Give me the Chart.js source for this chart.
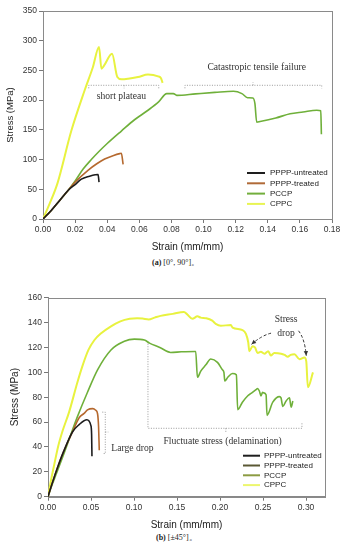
<!DOCTYPE html>
<html>
<head>
<meta charset="utf-8">
<script src="https://cdn.jsdelivr.net/npm/chart.js@4.4.0/dist/chart.umd.min.js"></script>
<style>
  html, body { margin: 0; padding: 0; background: #fff; }
  body { width: 347px; height: 550px; position: relative; overflow: hidden; }
  .box { position: absolute; left: 0; width: 347px; }
  .cap { position: absolute; font-family: "Liberation Serif", serif; font-size: 8px; color: #222; white-space: nowrap; }
</style>
</head>
<body>
<div class="box" style="top:0;height:255px"><canvas id="chartA"></canvas></div>
<div class="cap" style="left:152px;top:257px"><b>(a)</b> [0°, 90°]。</div>
<div class="box" style="top:280px;height:252px"><canvas id="chartB"></canvas></div>
<div class="cap" style="left:156px;top:532px"><b>(b)</b> [±45°]。</div>
<script>
const seriesNames = ['PPPP-untreated', 'PPPP-treated', 'PCCP', 'CPPC'];
const lineColors = ['#1c1c1c', '#b5692f', '#6fb03a', '#e8f23f'];
const legendColorsA = ['#1e1e1e', '#b06a38', '#72ae3c', '#e8f452'];
const legendColorsB = ['#1e1e1e', '#5a5834', '#8c9b42', '#ecf66e'];

// (a) [0°, 90°]
const untreatedStrainA = [0, 0.005, 0.01, 0.0156, 0.02, 0.0239, 0.029, 0.0325, 0.0343, 0.0349];
const untreatedStressA = [0, 14, 30, 48, 58, 67, 72, 74.5, 75, 62];
const treatedStrainA = [0, 0.005, 0.01, 0.0156, 0.02, 0.028, 0.0335, 0.0384, 0.044, 0.0478, 0.0488, 0.0499];
const treatedStressA = [0, 14, 30, 48, 62, 82, 93, 101, 107, 110, 110.5, 92];
const pccpStrainA = [0, 0.005, 0.01, 0.0156, 0.02, 0.025, 0.0301, 0.035, 0.04, 0.0488, 0.057, 0.0654, 0.072, 0.0771,
  0.0812, 0.0833, 0.095, 0.107, 0.1186, 0.1239, 0.1274, 0.1307, 0.132, 0.1331, 0.1352, 0.145, 0.1539, 0.162, 0.1705, 0.173, 0.1734];
const pccpStressA = [0, 14, 30, 48, 64, 84, 100, 114, 127, 148, 167, 183, 197, 211,
  211, 208, 210.5, 213, 215, 211, 204, 203.5, 194, 163, 164, 170, 177, 180, 183, 182, 142.5];
const cppcStrainA = [0, 0.004, 0.009, 0.0176, 0.026, 0.031, 0.0349, 0.0364, 0.038, 0.043, 0.0463, 0.049, 0.053,
  0.0592, 0.0654, 0.0717, 0.0735, 0.0745];
const cppcStressA = [0, 25, 60, 148, 217, 255, 289.5, 253, 258, 278, 239, 235, 236, 239, 243, 240, 237, 229];
const strainTicksA = [0, 0.02, 0.04, 0.06, 0.08, 0.10, 0.12, 0.14, 0.16, 0.18];
const stressTicksA = [0, 50, 100, 150, 200, 250, 300, 350];

// (b) [±45°]
const untreatedStrainB = [0, 0.005, 0.0109, 0.018, 0.0284, 0.0362, 0.0452, 0.0498, 0.0507, 0.0511];
const untreatedStressB = [0, 11, 23, 36, 52, 58, 61.9, 57.3, 50, 32.6];
const treatedStrainB = [0, 0.005, 0.0109, 0.018, 0.0284, 0.0362, 0.042, 0.0459, 0.052, 0.0555, 0.0576, 0.0588, 0.0596];
const treatedStressB = [0, 11, 23, 36, 52, 63.5, 67, 69.8, 70.8, 69.5, 66.7, 56, 37.3];
const pccpStrainB = [0, 0.005, 0.01, 0.0187, 0.026, 0.034, 0.0459, 0.0576, 0.0732, 0.0888, 0.1004, 0.112, 0.118, 0.13,
  0.1425, 0.155, 0.1705, 0.1717, 0.1737, 0.1776, 0.1835, 0.1892, 0.197, 0.2028, 0.2045, 0.2055, 0.209, 0.2145, 0.219,
  0.2205, 0.226, 0.232, 0.236, 0.2418, 0.2435, 0.2457, 0.2476, 0.2495, 0.2507, 0.2535, 0.2546, 0.2613, 0.269, 0.2709,
  0.2729, 0.2768, 0.2807, 0.2826, 0.2846];
const pccpStressB = [0, 10, 19, 35, 49, 64, 84, 102, 118, 125, 126.7, 126, 123.5, 120,
  116, 116.5, 116.8, 116.8, 96, 101, 106, 110.7, 108, 102, 100, 93, 96, 99, 98,
  70, 76, 81, 83, 86, 87, 85, 81, 84, 83.5, 82, 65.4, 76, 80.5, 79.5,
  72.6, 77, 79.5, 72, 77];
const cppcStrainB = [0, 0.004, 0.007, 0.012, 0.017, 0.0245, 0.0342, 0.04, 0.047, 0.054, 0.061, 0.0732, 0.0841, 0.095,
  0.1036, 0.11, 0.117, 0.124, 0.1308, 0.145, 0.158, 0.162, 0.1678, 0.1737, 0.1775, 0.184, 0.191, 0.195, 0.2009, 0.2126,
  0.2145, 0.2262, 0.2301, 0.2328, 0.234, 0.2379, 0.2406, 0.2437, 0.2475, 0.2515, 0.256, 0.259, 0.263, 0.2709, 0.275,
  0.2787, 0.282, 0.2865, 0.2924, 0.2981, 0.3002, 0.3021, 0.308];
const cppcStressB = [0, 15, 25, 41, 53, 68, 92, 105, 118, 126, 131, 137, 141, 143,
  143.5, 143.2, 142.5, 144, 145.4, 147, 148.6, 146.5, 143, 145, 144, 143.5, 141.5, 139, 137.5, 138,
  136, 134, 131, 124, 117, 121, 120, 115.5, 116.5, 115, 117, 113.5, 115.5, 115, 114,
  112.5, 114, 114.5, 110.5, 112, 109, 88, 100];
const strainTicksB = [0, 0.05, 0.10, 0.15, 0.20, 0.25, 0.30];
const stressTicksB = [0, 20, 40, 60, 80, 100, 120, 140, 160];

Chart.defaults.font.family = '"Liberation Sans", Arial, sans-serif';
Chart.defaults.color = '#333';

function toPoints(xs, ys) {
    return xs.map(function (x, i) { return { x: x, y: ys[i] }; });
}

function makeDatasets(groups) {
    return groups.map(function (g, i) {
        return {
            label: seriesNames[i],
            data: toPoints(g[0], g[1]),
            showLine: true,
            borderColor: lineColors[i],
            borderWidth: i === 3 ? 2 : 1.6,
            pointRadius: 0,
            cubicInterpolationMode: 'monotone',
            fill: false
        };
    });
}

const serif = '9.6px "Liberation Serif", "Times New Roman", serif';

const frame = {
    id: 'frame',
    beforeDatasetsDraw(chart) {
        const a = chart.chartArea, ctx = chart.ctx;
        ctx.save();
        ctx.strokeStyle = '#8a8a8a';
        ctx.lineWidth = 1;
        ctx.strokeRect(Math.round(a.left) + 0.5, Math.round(a.top) + 0.5, Math.round(a.right - a.left), Math.round(a.bottom - a.top));
        ctx.restore();
    }
};

function drawLegend(chart, colors, c) {
    const ctx = chart.ctx, a = chart.chartArea;
    ctx.save();
    ctx.font = '8px "Liberation Sans", Arial, sans-serif';
    ctx.textBaseline = 'middle';
    seriesNames.forEach(function (name, i) {
        const yy = a.bottom - c.bottomOffset + i * c.rowGap;
        ctx.strokeStyle = colors[i];
        ctx.lineWidth = 2;
        ctx.beginPath();
        ctx.moveTo(a.right - c.lineStart, yy);
        ctx.lineTo(a.right - c.lineEnd, yy);
        ctx.stroke();
        ctx.fillStyle = '#222';
        ctx.fillText(name, a.right - c.textOffset, yy);
    });
    ctx.restore();
}

function dotted(ctx) {
    ctx.strokeStyle = '#9a9a9a';
    ctx.lineWidth = 1;
    ctx.setLineDash([1, 1.5]);
}

function label(ctx, text, x, y, align) {
    ctx.font = serif;
    ctx.fillStyle = '#333';
    ctx.textAlign = align || 'center';
    ctx.textBaseline = 'middle';
    ctx.fillText(text, x, y);
}

function arrow(ctx, x1, y1, cx, cy, x2, y2) {
    ctx.save();
    ctx.strokeStyle = '#333';
    ctx.fillStyle = '#333';
    ctx.lineWidth = 1;
    ctx.setLineDash([3, 2]);
    ctx.beginPath();
    ctx.moveTo(x1, y1);
    ctx.quadraticCurveTo(cx, cy, x2, y2);
    ctx.stroke();
    ctx.setLineDash([]);
    const ang = Math.atan2(y2 - cy, x2 - cx);
    ctx.beginPath();
    ctx.moveTo(x2, y2);
    ctx.lineTo(x2 - 5 * Math.cos(ang - 0.45), y2 - 5 * Math.sin(ang - 0.45));
    ctx.lineTo(x2 - 5 * Math.cos(ang + 0.45), y2 - 5 * Math.sin(ang + 0.45));
    ctx.closePath();
    ctx.fill();
    ctx.restore();
}

const notesA = {
    id: 'notesA',
    afterDatasetsDraw(chart) {
        const ctx = chart.ctx, sx = chart.scales.x, sy = chart.scales.y;
        const X = function (v) { return sx.getPixelForValue(v); };
        const Y = function (v) { return sy.getPixelForValue(v); };
        ctx.save();
        dotted(ctx);
        ctx.beginPath();
        // short plateau
        ctx.moveTo(X(0.0285), Y(225) + 3); ctx.lineTo(X(0.0285), Y(225));
        ctx.lineTo(X(0.0721), Y(225)); ctx.lineTo(X(0.0721), Y(225) + 3);
        ctx.moveTo(X(0.0505), Y(225)); ctx.lineTo(X(0.0505), Y(225) + 3);
        // catastropic
        ctx.moveTo(X(0.0884), Y(225) + 3); ctx.lineTo(X(0.0884), Y(225));
        ctx.lineTo(X(0.1736), Y(225)); ctx.lineTo(X(0.1736), Y(225) + 3);
        ctx.moveTo(X(0.1308), Y(225)); ctx.lineTo(X(0.1308), Y(225) - 3);
        ctx.stroke();
        ctx.setLineDash([]);
        label(ctx, 'short plateau', X(0.0488), Y(206.5));
        label(ctx, 'Catastropic tensile failure', X(0.1331), Y(254.8));
        ctx.restore();
        drawLegend(chart, legendColorsA, { lineStart: 85, lineEnd: 67, textOffset: 62, bottomOffset: 46, rowGap: 10.3 });
    }
};

const notesB = {
    id: 'notesB',
    afterDatasetsDraw(chart) {
        const ctx = chart.ctx, sx = chart.scales.x, sy = chart.scales.y;
        const X = function (v) { return sx.getPixelForValue(v); };
        const Y = function (v) { return sy.getPixelForValue(v); };
        ctx.save();
        dotted(ctx);
        ctx.beginPath();
        // large drop
        ctx.moveTo(X(0.0666) - 3, Y(68)); ctx.lineTo(X(0.0666), Y(68));
        ctx.lineTo(X(0.0666), Y(34.7)); ctx.lineTo(X(0.0666) - 3, Y(34.7));
        ctx.moveTo(X(0.0666), Y(52)); ctx.lineTo(X(0.0666) + 3, Y(52));
        // fluctuate
        ctx.moveTo(X(0.1162), Y(123)); ctx.lineTo(X(0.1162), Y(55));
        ctx.lineTo(X(0.2952), Y(55)); ctx.lineTo(X(0.2952), Y(55) - 6);
        ctx.moveTo(X(0.2067), Y(55)); ctx.lineTo(X(0.2067), Y(55) + 5);
        ctx.stroke();
        ctx.setLineDash([]);
        label(ctx, 'Large drop', X(0.0736), Y(38.7), 'left');
        label(ctx, 'Fluctuate stress (delamination)', X(0.2029), Y(44.6));
        label(ctx, 'Stress', X(0.2768), Y(142.7));
        label(ctx, 'drop', X(0.2768), Y(131));
        ctx.restore();
        arrow(ctx, X(0.2593), Y(131.5), X(0.248), Y(129.5), X(0.2366), Y(122.5));
        arrow(ctx, X(0.2912), Y(133.4), X(0.2985), Y(127), X(0.3002), Y(113.4));
        drawLegend(chart, legendColorsB, { lineStart: 82, lineEnd: 65, textOffset: 61, bottomOffset: 41, rowGap: 9.8 });
    }
};

function axisOptions(c) {
    return {
        x: {
            type: 'linear', min: 0, max: c.xMax,
            afterBuildTicks: function (s) { s.ticks = c.xTicks.map(function (v) { return { value: v }; }); },
            afterFit: function (s) { s.height = c.xHeight; },
            ticks: { font: { size: 8.5 }, color: '#333', padding: 2, callback: function (v) { return v.toFixed(2); } },
            grid: { drawOnChartArea: false, tickLength: 4, color: '#777' },
            border: { color: '#888' },
            title: { display: true, text: 'Strain (mm/mm)', font: { size: 10 }, color: '#222', padding: { top: 0, bottom: c.xTitlePad } }
        },
        y: {
            type: 'linear', min: 0, max: c.yMax,
            afterBuildTicks: function (s) { s.ticks = c.yTicks.map(function (v) { return { value: v }; }); },
            afterFit: function (s) { s.width = c.yWidth; },
            ticks: { font: { size: 8.5 }, color: '#333', padding: 2 },
            grid: { drawOnChartArea: false, tickLength: 4, color: '#777' },
            border: { color: '#888' },
            title: { display: true, text: 'Stress (MPa)', font: { size: c.yTitleSize }, color: '#222', padding: { top: c.yTitlePad, bottom: 0 } }
        }
    };
}

new Chart(document.getElementById('chartA'), {
    type: 'scatter',
    data: {
        datasets: makeDatasets([
            [untreatedStrainA, untreatedStressA],
            [treatedStrainA, treatedStressA],
            [pccpStrainA, pccpStressA],
            [cppcStrainA, cppcStressA]
        ])
    },
    options: {
        responsive: true,
        maintainAspectRatio: false,
        animation: false,
        events: [],
        layout: { padding: { left: 0, right: 15, top: 11, bottom: 0 } },
        plugins: { legend: { display: false }, tooltip: { enabled: false } },
        scales: axisOptions({ xMax: 0.18, xTicks: strainTicksA, xHeight: 36, xTitlePad: 2,
            yMax: 350, yTicks: stressTicksA, yWidth: 43, yTitleSize: 9.5, yTitlePad: 5 })
    },
    plugins: [frame, notesA]
});

new Chart(document.getElementById('chartB'), {
    type: 'scatter',
    data: {
        datasets: makeDatasets([
            [untreatedStrainB, untreatedStressB],
            [treatedStrainB, treatedStressB],
            [pccpStrainB, pccpStressB],
            [cppcStrainB, cppcStressB]
        ])
    },
    options: {
        responsive: true,
        maintainAspectRatio: false,
        animation: false,
        events: [],
        layout: { padding: { left: 0, right: 22, top: 17.7, bottom: 0 } },
        plugins: { legend: { display: false }, tooltip: { enabled: false } },
        scales: axisOptions({ xMax: 0.322, xTicks: strainTicksB, xHeight: 35.3, xTitlePad: 1,
            yMax: 160, yTicks: stressTicksB, yWidth: 48, yTitleSize: 10, yTitlePad: 9 })
    },
    plugins: [frame, notesB]
});
</script>
</body>
</html>
